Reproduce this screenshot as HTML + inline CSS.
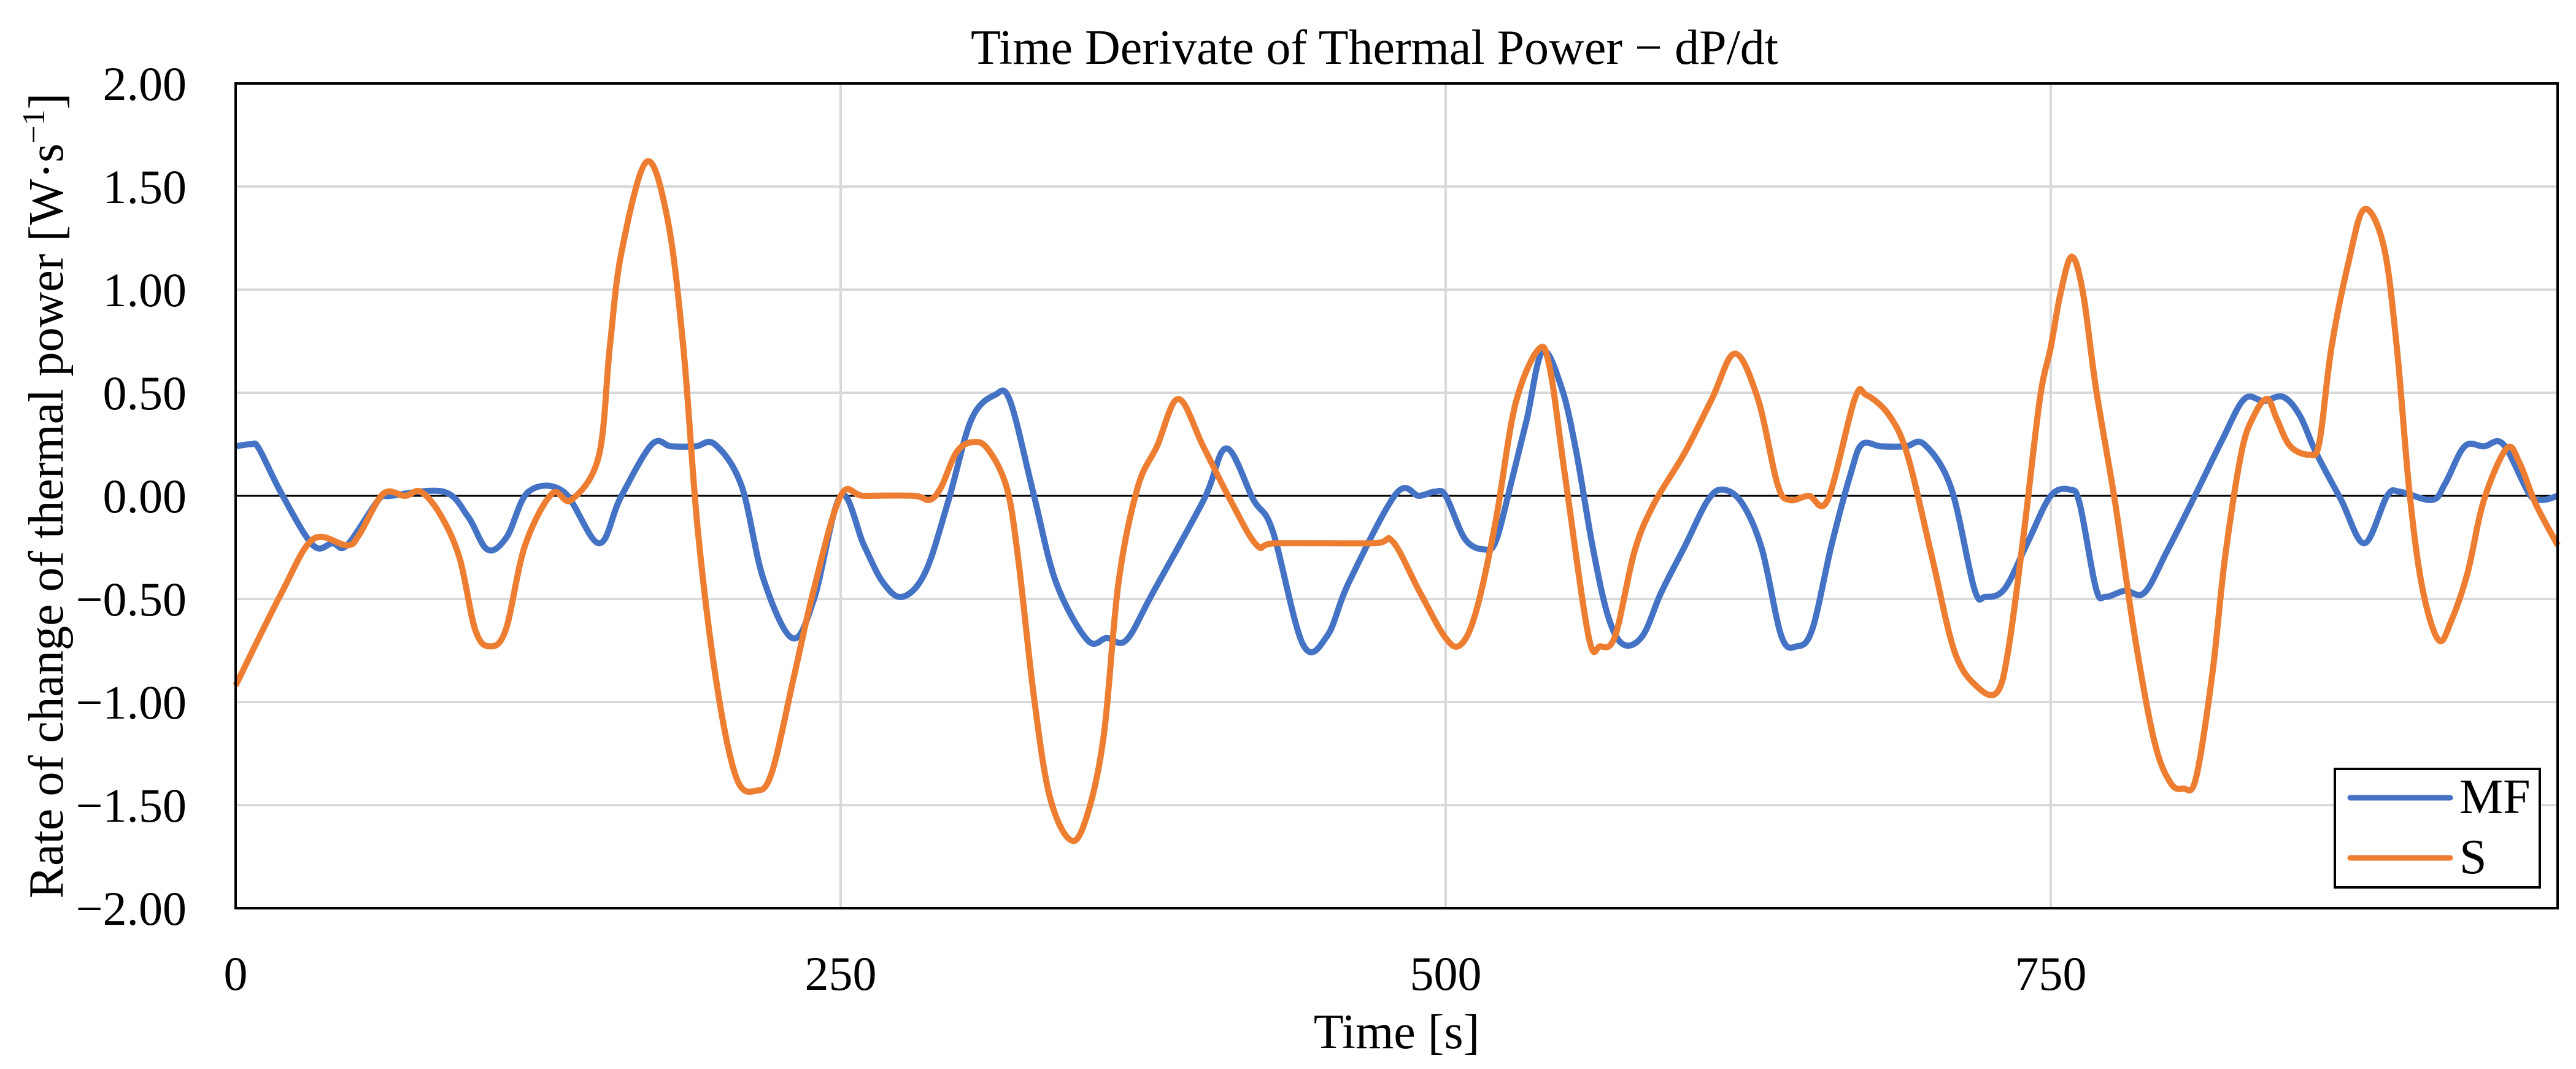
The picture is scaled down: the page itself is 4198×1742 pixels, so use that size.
<!DOCTYPE html>
<html><head><meta charset="utf-8"><style>
html,body{margin:0;padding:0;background:#fff;}
svg{display:block;font-family:"Liberation Serif",serif;}
</style></head><body>
<svg id="chart" width="4198" height="1742" viewBox="0 0 4198 1742">
<rect x="0" y="0" width="4198" height="1742" fill="#fff"/>
<g id="grid"></g>
<g id="series"></g>
<rect x="384" y="136" width="3784" height="1344" fill="none" stroke="#000" stroke-width="4"/>
<g id="ticks"></g>
<text x="2240" y="104" font-size="80" text-anchor="middle">Time Derivate of Thermal Power − dP/dt</text>
<text x="2276" y="1708" font-size="80" text-anchor="middle">Time [s]</text>
<text transform="translate(102,808) rotate(-90)" font-size="80" text-anchor="middle">Rate of change of thermal power [W·s<tspan dy="-30" font-size="52">−1</tspan><tspan dy="30">]</tspan></text>
<g>
<rect x="3805" y="1253" width="334" height="193" fill="#fff" stroke="#000" stroke-width="4"/>
<line x1="3830" y1="1300" x2="3993" y2="1300" stroke="#4472C4" stroke-width="9" stroke-linecap="round"/>
<text x="4008" y="1325" font-size="80">MF</text>
<line x1="3830" y1="1398" x2="3993" y2="1398" stroke="#ED7D31" stroke-width="9" stroke-linecap="round"/>
<text x="4008" y="1423" font-size="80">S</text>
</g>
</svg>
<script>
const xTicks = [0, 250, 500, 750];
const yTicks = [2, 1.5, 1, 0.5, 0, -0.5, -1, -1.5, -2];
const yTickLabels = ["2.00","1.50","1.00","0.50","0.00","−0.50","−1.00","−1.50","−2.00"];
const mfT = [0,6.4,9.6,19,32,40,46,59,64,86,96,104,112,121,135.5,150,159,172,180,190,198,209,218,230,239,250,259.6,267.5,275.5,285,294.6,304,313.8,320,329.7,339,352,360,368,379,400,409.4,420.6,428.5,441,451,460,479.5,489,495.5,500,508,516,520.7,527,533.5,540,548,554,560.6,567,573.3,581.3,589,599,608.4,614.8,622.7,630.7,638.7,645,651.4,659.4,667.4,672,680,690,697.7,708.8,718.4,723,731,740.7,750,758,762,768.7,772.7,780.7,788.7,798,810,820.8,830,838,846,852.9,859.6,870,879.6,889,894.3,907.6,913,921,929,937,947.7,953,959.5];
const mfV = [0.24,0.25,0.23,0.01,-0.24,-0.23,-0.24,-0.02,0,0.02,-0.1,-0.26,-0.2,0.02,0.02,-0.23,-0.01,0.25,0.24,0.24,0.25,0.05,-0.4,-0.69,-0.5,0,-0.24,-0.42,-0.49,-0.37,-0.02,0.37,0.49,0.46,0.01,-0.42,-0.7,-0.69,-0.7,-0.47,-0.02,0.23,-0.02,-0.17,-0.72,-0.68,-0.42,0.01,0,0.02,0,-0.21,-0.26,-0.22,0.06,0.37,0.7,0.52,0.21,-0.24,-0.58,-0.72,-0.68,-0.47,-0.24,-0.02,0.03,-0.04,-0.26,-0.68,-0.73,-0.65,-0.24,0.11,0.25,0.24,0.24,0.25,0.04,-0.45,-0.49,-0.45,-0.22,0,0.03,-0.04,-0.45,-0.49,-0.46,-0.47,-0.27,0.01,0.27,0.47,0.46,0.48,0.39,0.21,-0.02,-0.23,0,0.02,-0.02,0.06,0.24,0.24,0.25,0.01,-0.02,0];
const sT = [0,19,32,46,51,61,70,76.5,84.5,92.5,99,105,111.6,119.6,130.7,138.7,150,154.6,159.4,169.8,178.5,185,191,199,207,215,221.6,231,239,250,259.6,280.3,286.7,291.4,297.8,304.2,310.6,318.6,323.3,329.7,336,344,350.4,358.4,364.8,372.7,380.7,389.5,399.8,411,422,430,470,478,489,500,506.4,512.8,520.7,528.7,538.3,543,549.4,559,563.8,570,578,586,598.8,610,619.5,629,637,641.9,650,657.8,669,673.7,683.3,691,701,710.4,720,728,732.7,739,745.5,750,754,758.7,763.4,768.7,776.7,784.7,792.8,799.4,804.8,810,816.8,822,828.8,834,839.5,843.5,849,857,861,866,873,879.6,887.6,893,898.3,903.6,910.3,915.7,922.3,929,938.4,943.7,950.4,959.5];
const sV = [-0.92,-0.47,-0.21,-0.24,-0.19,0.01,0,0.02,-0.09,-0.3,-0.65,-0.73,-0.65,-0.24,0.01,-0.02,0.19,0.72,1.18,1.62,1.34,0.72,-0.17,-0.93,-1.37,-1.43,-1.34,-0.86,-0.45,0,0,0,-0.02,0.04,0.21,0.26,0.23,0.04,-0.3,-0.96,-1.44,-1.66,-1.6,-1.19,-0.42,0.04,0.24,0.47,0.24,-0.02,-0.24,-0.23,-0.23,-0.22,-0.46,-0.69,-0.72,-0.55,-0.12,0.44,0.71,0.62,0.09,-0.68,-0.73,-0.68,-0.27,-0.04,0.21,0.47,0.69,0.47,0.06,-0.02,0,-0.02,0.47,0.49,0.39,0.19,-0.3,-0.76,-0.93,-0.95,-0.73,-0.17,0.47,0.72,0.98,1.16,0.98,0.52,-0.04,-0.68,-1.19,-1.39,-1.42,-1.37,-0.86,-0.3,0.21,0.39,0.47,0.37,0.24,0.2,0.26,0.72,1.13,1.39,1.21,0.72,0.01,-0.45,-0.7,-0.6,-0.37,-0.02,0.23,0.16,-0.04,-0.24];

const NS = "http://www.w3.org/2000/svg";
const L = 384, R = 4168, T = 136, B = 1480;
function xs(t){ return L + t / 250 * 986; }
function ys(v){ return T + (2 - v) / 4 * (B - T); }

const grid = document.getElementById('grid');
const ticks = document.getElementById('ticks');
yTicks.forEach((v, i) => {
  const y = ys(v);
  const ln = document.createElementNS(NS, 'line');
  ln.setAttribute('x1', L); ln.setAttribute('x2', R);
  ln.setAttribute('y1', y); ln.setAttribute('y2', y);
  ln.setAttribute('stroke', v === 0 ? '#000' : '#d9d9d9');
  ln.setAttribute('stroke-width', v === 0 ? 3 : 4);
  
  
  grid.appendChild(ln);
  const tx = document.createElementNS(NS, 'text');
  tx.setAttribute('x', 304); tx.setAttribute('y', y + 27);
  tx.setAttribute('font-size', '78'); tx.setAttribute('text-anchor', 'end');
  tx.textContent = yTickLabels[i];
  
  
  ticks.appendChild(tx);
});
xTicks.forEach(t => {
  const x = xs(t);
  if (t > 0) {
    const ln = document.createElementNS(NS, 'line');
    ln.setAttribute('x1', x); ln.setAttribute('x2', x);
    ln.setAttribute('y1', T); ln.setAttribute('y2', B);
    ln.setAttribute('stroke', '#d9d9d9'); ln.setAttribute('stroke-width', 4);
    
    
    grid.appendChild(ln);
  }
  const tx = document.createElementNS(NS, 'text');
  tx.setAttribute('x', x); tx.setAttribute('y', 1613);
  tx.setAttribute('font-size', '78'); tx.setAttribute('text-anchor', 'middle');
  tx.textContent = String(t);
  
  
  ticks.appendChild(tx);
});

function smoothPath(ts, vs){
  const p = ts.map((t, i) => [xs(t), ys(vs[i])]);
  let d = 'M' + p[0][0].toFixed(1) + ',' + p[0][1].toFixed(1);
  for (let i = 0; i < p.length - 1; i++) {
    const p0 = p[Math.max(0, i - 1)], p1 = p[i], p2 = p[i + 1], p3 = p[Math.min(p.length - 1, i + 2)];
    const c1x = p1[0] + (p2[0] - p0[0]) / 6, c1y = p1[1] + (p2[1] - p0[1]) / 6;
    const c2x = p2[0] - (p3[0] - p1[0]) / 6, c2y = p2[1] - (p3[1] - p1[1]) / 6;
    d += 'C' + c1x.toFixed(1) + ',' + c1y.toFixed(1) + ' ' + c2x.toFixed(1) + ',' + c2y.toFixed(1) + ' ' + p2[0].toFixed(1) + ',' + p2[1].toFixed(1);
  }
  return d;
}
const series = document.getElementById('series');
const mfPath = document.createElementNS(NS, 'path');
mfPath.setAttribute('d', smoothPath(mfT, mfV));
mfPath.setAttribute('fill', 'none'); mfPath.setAttribute('stroke', '#4472C4');
mfPath.setAttribute('stroke-width', 10); mfPath.setAttribute('stroke-linejoin', 'round');


series.appendChild(mfPath);
const sPath = document.createElementNS(NS, 'path');
sPath.setAttribute('d', smoothPath(sT, sV));
sPath.setAttribute('fill', 'none'); sPath.setAttribute('stroke', '#ED7D31');
sPath.setAttribute('stroke-width', 10); sPath.setAttribute('stroke-linejoin', 'round');


series.appendChild(sPath);
</script>
</body></html>
